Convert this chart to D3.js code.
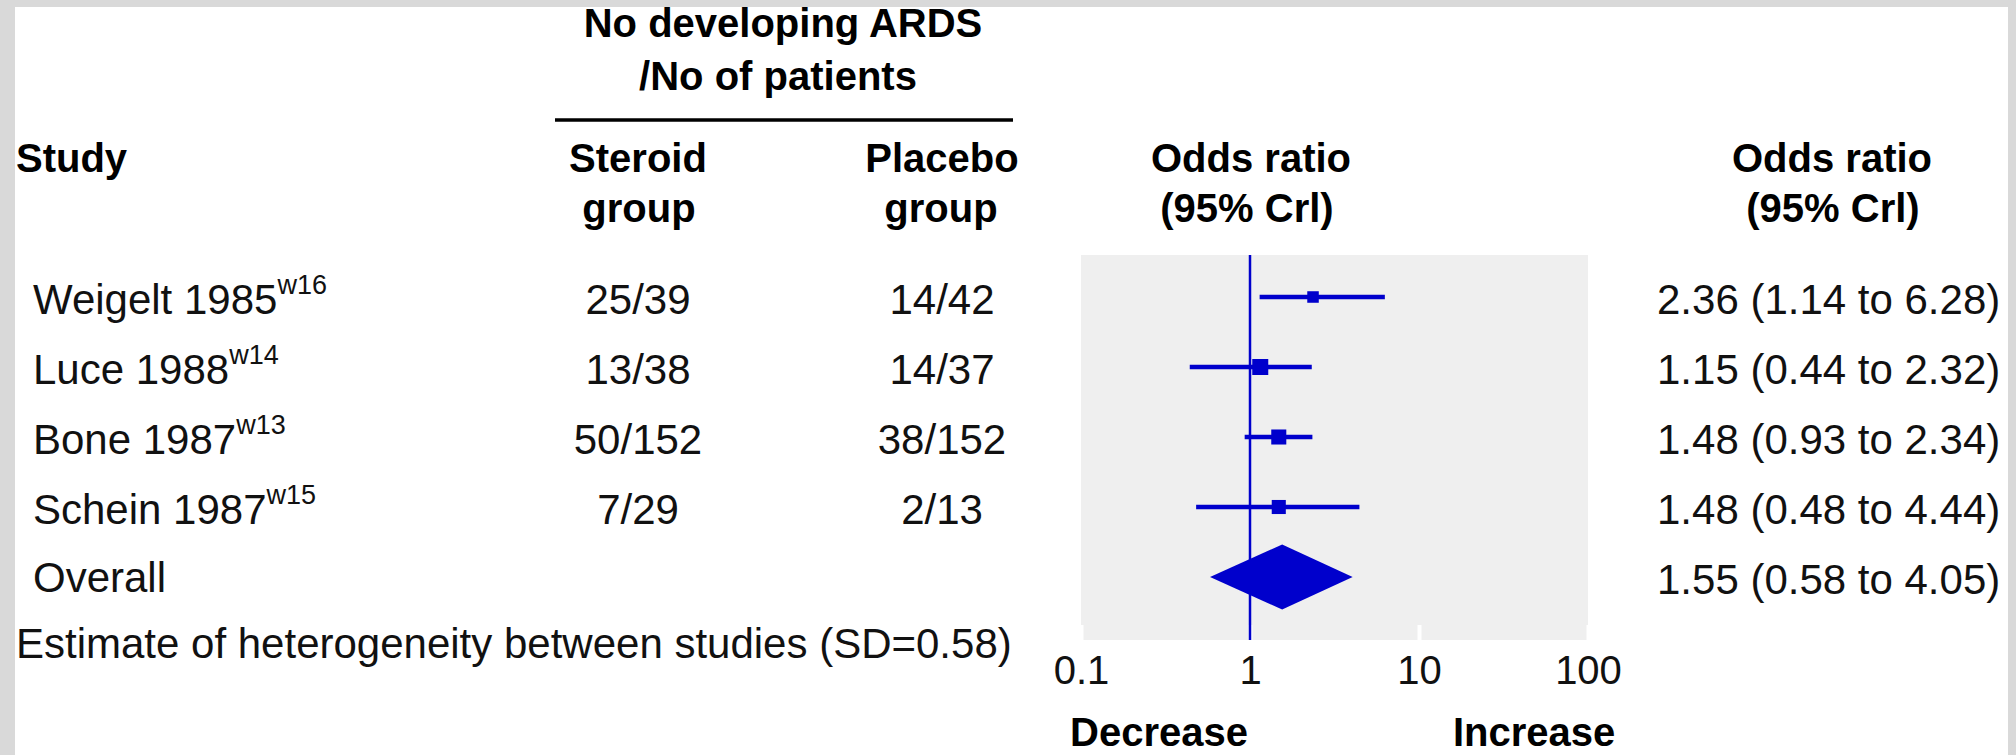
<!DOCTYPE html>
<html><head><meta charset="utf-8">
<script src="https://cdn.jsdelivr.net/npm/d3@7"></script>
<style>
html,body{margin:0;padding:0;background:#d9d9d9;}
svg{display:block;}
</style></head>
<body>
<script>
// ---- data ----
const studies   = ["Weigelt 1985", "Luce 1988", "Bone 1987", "Schein 1987"];
const refs      = ["w16", "w14", "w13", "w15"];
const steroid   = ["25/39", "13/38", "50/152", "7/29"];
const placebo   = ["14/42", "14/37", "38/152", "2/13"];
const oddsRatio = [2.36, 1.15, 1.48, 1.48];
const lower     = [1.14, 0.44, 0.93, 0.48];
const upper     = [6.28, 2.32, 2.34, 4.44];
const weights   = [0.72, 1.0, 0.94, 0.88];   // relative marker weights
const overallLabel = "Overall";
const overallOR = 1.55, overallLo = 0.58, overallHi = 4.05;
const heterogeneity = "Estimate of heterogeneity between studies (SD=0.58)";
const tickValues = [0.1, 1, 10, 100];
const tickLabels = ["0.1", "1", "10", "100"];

// ---- layout ----
const W = 2016, H = 755;
const FONT = "'Liberation Sans', Arial, sans-serif";
const blue = "#0000cc";

const svg = d3.select("body").append("svg").attr("width", W).attr("height", H);
svg.append("rect").attr("x", 0).attr("y", 0).attr("width", W).attr("height", H).attr("fill", "#d9d9d9");
svg.append("rect").attr("x", 15).attr("y", 7).attr("width", 2008 - 15).attr("height", H - 7).attr("fill", "#ffffff");

const x = d3.scaleLog().domain([0.1, 100]).range([1081, 1588]);
const rowIdx = d3.range(studies.length + 1);
const y = d3.scalePoint().domain(rowIdx).range([297, 577]);
const size = d3.scaleLinear().domain([0, 1]).range([0, 16]);

// headers (bold)
const bold = (t, xx, yy, anchor) => svg.append("text").text(t)
  .attr("x", xx).attr("y", yy).attr("text-anchor", anchor || "middle")
  .attr("font-family", FONT).attr("font-weight", 700).attr("font-size", 40).attr("fill", "#000");

bold("No developing ARDS", 783, 37);
bold("/No of patients", 778, 90);
svg.append("line").attr("x1", 555).attr("x2", 1013).attr("y1", 120).attr("y2", 120)
  .attr("stroke", "#000").attr("stroke-width", 3.5);
bold("Study", 16, 172, "start");
bold("Steroid", 638, 172); bold("group", 639, 222);
bold("Placebo", 942, 172); bold("group", 941, 222);
bold("Odds ratio", 1251, 172); bold("(95% Crl)", 1247, 222);
bold("Odds ratio", 1832, 172); bold("(95% Crl)", 1833, 222);
bold("Decrease", 1070, 746, "start");
bold("Increase", 1453, 746, "start");

// plot panel
svg.append("rect").attr("x", x(0.1)).attr("y", 255)
  .attr("width", x(100) - x(0.1)).attr("height", 640 - 255).attr("fill", "#efefef");

// axis
const axis = d3.axisBottom(x).tickValues(tickValues)
  .tickFormat((d, i) => tickLabels[i]).tickSizeInner(-15).tickSizeOuter(0).tickPadding(30);
const ax = svg.append("g").attr("transform", "translate(0,640)").call(axis);
ax.select(".domain").remove();
ax.selectAll(".tick line").attr("stroke", "#ffffff").attr("stroke-width", 4);
ax.selectAll(".tick text").attr("font-family", FONT).attr("font-size", 40).attr("fill", "#111")
  .attr("dy", 0).attr("y", 44);

// reference line at 1
svg.append("line").attr("x1", x(1)).attr("x2", x(1)).attr("y1", 255).attr("y2", 640)
  .attr("stroke", blue).attr("stroke-width", 2.5);

// regular text
const reg = (t, xx, yy, anchor) => svg.append("text").text(t)
  .attr("x", xx).attr("y", yy).attr("text-anchor", anchor || "start")
  .attr("font-family", FONT).attr("font-size", 42).attr("fill", "#111");

const fmt = d3.format(".2f");
studies.forEach((s, i) => {
  const yy = y(i);
  const t = svg.append("text").attr("x", 33).attr("y", yy + 17)
    .attr("font-family", FONT).attr("font-size", 42).attr("fill", "#111");
  t.append("tspan").text(s);
  t.append("tspan").text(refs[i]).attr("font-size", 27).attr("dy", -20);
  reg(steroid[i], 638, yy + 17, "middle");
  reg(placebo[i], 942, yy + 17, "middle");
  reg(`${fmt(oddsRatio[i])} (${fmt(lower[i])} to ${fmt(upper[i])})`, 1657, yy + 17);
  // CI
  svg.append("line").attr("x1", x(lower[i])).attr("x2", x(upper[i]))
    .attr("y1", yy).attr("y2", yy).attr("stroke", blue).attr("stroke-width", 4.5);
  const sz = size(weights[i]);
  svg.append("rect").attr("x", x(oddsRatio[i]) - sz / 2).attr("y", yy - sz / 2)
    .attr("width", sz).attr("height", sz).attr("fill", blue);
});

// overall
const yo = y(studies.length);
reg(overallLabel, 33, yo + 15);
reg(`${fmt(overallOR)} (${fmt(overallLo)} to ${fmt(overallHi)})`, 1657, yo + 17);
const dh = 32.5;
svg.append("path").attr("fill", blue)
  .attr("d", d3.line()([[x(overallLo), yo], [x(overallOR), yo - dh], [x(overallHi), yo], [x(overallOR), yo + dh]]) + "Z");

reg(heterogeneity, 16, 658);
</script>
</body></html>
